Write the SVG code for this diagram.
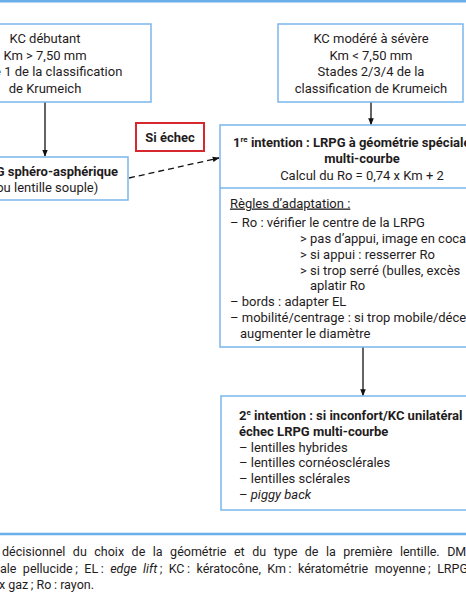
<svg xmlns="http://www.w3.org/2000/svg" width="466" height="600" viewBox="0 0 466 600">
<defs>
<style>
text{font-family:Roboto,"Liberation Sans",sans-serif;font-size:13px;fill:#1f1c1d}
.c{text-anchor:middle}
.b{font-weight:700}
.box{fill:#fff;stroke:#7ab6ec;stroke-width:1.5}
.rule{stroke:#6aaeea;stroke-width:2.5}
.con{stroke:#111;stroke-width:1.3;fill:none}
.sup{font-size:8px}
.cap{font-size:12.5px}
</style>
<marker id="ah" viewBox="0 0 10 10" refX="9" refY="5" markerWidth="7" markerHeight="7" orient="auto" markerUnits="userSpaceOnUse">
<path d="M0,1 L10,5 L0,9 Z" fill="#111"/>
</marker>
</defs>
<rect width="466" height="600" fill="#fff"/>
<line class="rule" x1="0" y1="1.2" x2="466" y2="1.2"/>
<line class="rule" x1="0" y1="534" x2="466" y2="534"/>

<g id="connectors">
<line class="con" x1="45" y1="102" x2="45" y2="156" marker-end="url(#ah)"/>
<line class="con" x1="371" y1="102" x2="371" y2="124.5" marker-end="url(#ah)"/>
<line class="con" x1="363" y1="347" x2="363" y2="395.5" marker-end="url(#ah)"/>
<line class="con" x1="129" y1="178" x2="219" y2="158" stroke-dasharray="6,4" marker-end="url(#ah)"/>
</g>

<g id="n1">
<rect class="box" x="-61" y="24" width="212" height="78"/>
<text class="c" x="45" y="43">KC débutant</text>
<text class="c" x="45" y="59.5">Km &gt; 7,50 mm</text>
<text class="c" x="45" y="76">Stade 1 de la classification</text>
<text class="c" x="45" y="92.5">de Krumeich</text>
</g>

<g id="n2">
<rect class="box" x="278" y="24" width="185" height="78"/>
<text class="c" x="371" y="43">KC modéré à sévère</text>
<text class="c" x="371" y="59.5">Km &lt; 7,50 mm</text>
<text class="c" x="371" y="76">Stades 2/3/4 de la</text>
<text class="c" x="371" y="92.5">classification de Krumeich</text>
</g>

<g id="n3">
<rect class="box" x="-38" y="157" width="166" height="43"/>
<text class="c b" x="45" y="176">LRPG sphéro-asphérique</text>
<text class="c" x="45" y="192">(ou lentille souple)</text>
</g>

<g id="n-echec">
<rect x="136" y="123" width="68" height="28" fill="#fff" stroke="#d7282f" stroke-width="2"/>
<text class="c b" x="170" y="142">Si échec</text>
</g>

<g id="n4">
<rect class="box" x="220" y="125" width="290" height="222"/>
<line class="box" x1="220" y1="188" x2="510" y2="188"/>
<text class="b" x="233" y="147">1<tspan class="sup" dy="-5">re</tspan><tspan dy="5"> intention : LRPG à géométrie spéciale</tspan></text>
<text class="c b" x="362" y="163">multi-courbe</text>
<text class="c" x="362" y="179.5">Calcul du Ro = 0,74 x Km + 2</text>
<text x="230" y="207.5" text-decoration="underline">Règles d’adaptation :</text>
<text x="230" y="227">– Ro : vérifier le centre de la LRPG</text>
<text x="300" y="243">&gt; pas d’appui, image en cocarde</text>
<text x="300" y="258.8">&gt; si appui : resserrer Ro</text>
<text x="300" y="274.6">&gt; si trop serré (bulles, excès</text>
<text x="310" y="290.4">aplatir Ro</text>
<text x="230" y="306.2">– bords : adapter EL</text>
<text x="230" y="322">– mobilité/centrage : si trop mobile/décentrée</text>
<text x="240" y="337.8">augmenter le diamètre</text>
</g>

<g id="n5">
<rect class="box" x="221" y="396" width="290" height="114"/>
<text class="b" x="239" y="419.5">2<tspan class="sup" dy="-5">e</tspan><tspan dy="5"> intention : si inconfort/KC unilatéral</tspan></text>
<text class="b" x="239" y="435.5">échec LRPG multi-courbe</text>
<text x="239" y="451.5">– lentilles hybrides</text>
<text x="239" y="467.3">– lentilles cornéosclérales</text>
<text x="239" y="483">– lentilles sclérales</text>
<text x="239" y="498.8">– <tspan font-style="italic">piggy back</tspan></text>
</g>

<g id="caption">
<text class="cap" x="2" y="556" word-spacing="4.4">décisionnel du choix de la géométrie et du type de la première lentille. DM</text>
<text class="cap" x="0" y="572.5" word-spacing="3.3">ale pellucide&#8201;; EL&#8201;: <tspan font-style="italic">edge lift</tspan>&#8201;; KC&#8201;: kératocône, Km&#8201;: kératométrie moyenne&#8201;; LRPG</text>
<text class="cap" x="-1" y="589">x gaz&#8201;; Ro&#8201;: rayon.</text>
</g>
</svg>
